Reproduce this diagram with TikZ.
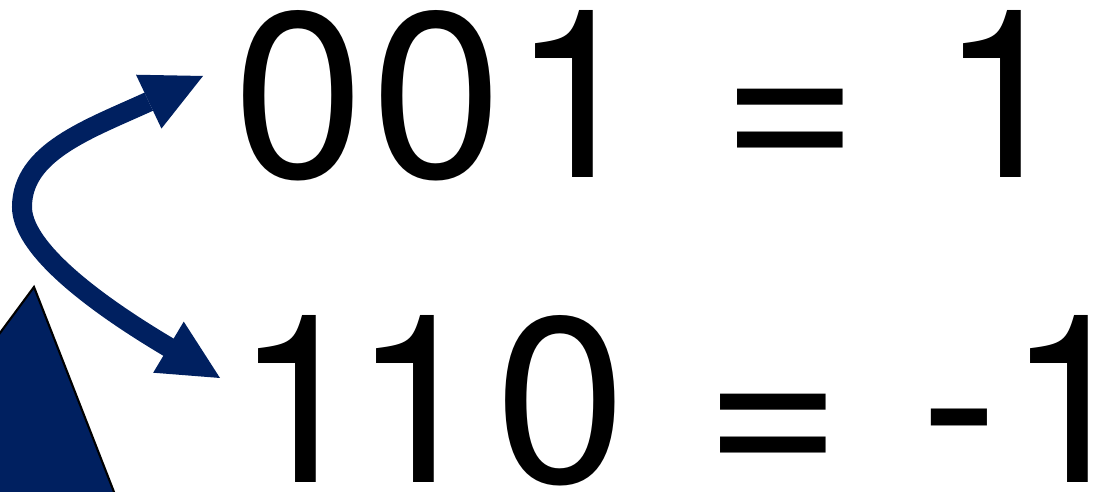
\documentclass[tikz,border=0pt]{standalone}
\usepackage{fontspec}
\setmainfont{TeX Gyre Heros}[LetterSpace=3.4]
\usetikzlibrary{arrows.meta}
\definecolor{navy}{HTML}{002060}
\tikzset{
  bigtext/.style={anchor=base west, inner sep=0pt, outer sep=0pt,
    font=\fontsize{67pt}{80pt}\selectfont},
  swap/.style={draw=navy, line width=0.2cm,
    {Triangle[length=0.6cm,width=0.595cm,line width=0pt]}-{Triangle[length=0.6cm,width=0.595cm,line width=0pt]}}
}
\begin{document}
\begin{tikzpicture}[x=0.01cm,y=-0.01cm]
\useasboundingbox (0,0) rectangle (1099,492);
% triangle
\begin{scope}
\clip (0,0) rectangle (1099,492);
\fill[navy] (-20,360) -- (34,287) -- (130,533) -- (-20,533) -- cycle;
\draw[black, line width=0.6pt] (-20,360) -- (34,287) -- (130,533);
\end{scope}
% texts
\node[bigtext] (t1) at (233,178) {001\hspace{0.06cm} = \hspace{0.07cm}1};
\node[bigtext] (t2) at (235,483) {1\kern-0.14cm 1\kern0.13cm 0\hspace{0.04cm} = \hspace{0.05cm}-1};
% arrow
\coordinate (tipA) at (203,76);
\coordinate (baseA) at (148,102);
\coordinate (bend) at (22,207);
\coordinate (baseB) at (169,347.5);
\coordinate (tipB) at (220,378);
\draw[swap] (tipA) -- (baseA) .. controls (89,129) and (22,152) .. (bend)
  .. controls (22,245) and (83,296.5) .. (baseB) -- (tipB);
\end{tikzpicture}
\end{document}
